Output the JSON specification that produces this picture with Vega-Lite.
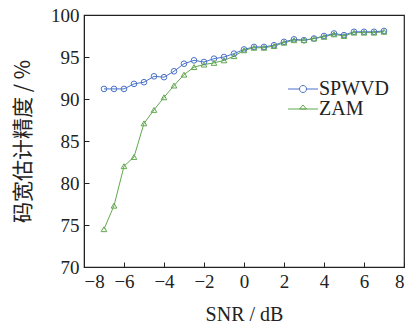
{
  "$schema": "https://vega.github.io/schema/vega-lite/v6.json",
  "autosize": "none",
  "width": 320,
  "height": 252,
  "padding": {"left": 84, "top": 15, "right": 9, "bottom": 56},
  "background": "white",
  "config": {
    "view": {"stroke": "#222", "strokeWidth": 1.2},
    "font": "Times New Roman",
    "axis": {
      "grid": false,
      "domainColor": "#222",
      "tickColor": "#222",
      "labelColor": "#222",
      "titleColor": "#222",
      "labelFont": "Times New Roman",
      "titleFont": "Times New Roman",
      "labelFontSize": 19,
      "titleFontSize": 20,
      "titleFontWeight": "normal",
      "tickSize": -5
    },
    "legend": {"labelFont": "Times New Roman"}
  },
  "data": {
    "values": [
      {"snr": -7, "acc": 91.2, "m": "SPWVD"},
      {"snr": -6.5, "acc": 91.2, "m": "SPWVD"},
      {"snr": -6, "acc": 91.2, "m": "SPWVD"},
      {"snr": -5.5, "acc": 91.8, "m": "SPWVD"},
      {"snr": -5, "acc": 92.0, "m": "SPWVD"},
      {"snr": -4.5, "acc": 92.7, "m": "SPWVD"},
      {"snr": -4, "acc": 92.6, "m": "SPWVD"},
      {"snr": -3.5, "acc": 93.3, "m": "SPWVD"},
      {"snr": -3, "acc": 94.2, "m": "SPWVD"},
      {"snr": -2.5, "acc": 94.6, "m": "SPWVD"},
      {"snr": -2, "acc": 94.4, "m": "SPWVD"},
      {"snr": -1.5, "acc": 94.8, "m": "SPWVD"},
      {"snr": -1, "acc": 95.0, "m": "SPWVD"},
      {"snr": -0.5, "acc": 95.4, "m": "SPWVD"},
      {"snr": 0, "acc": 95.9, "m": "SPWVD"},
      {"snr": 0.5, "acc": 96.2, "m": "SPWVD"},
      {"snr": 1, "acc": 96.2, "m": "SPWVD"},
      {"snr": 1.5, "acc": 96.4, "m": "SPWVD"},
      {"snr": 2, "acc": 96.8, "m": "SPWVD"},
      {"snr": 2.5, "acc": 97.1, "m": "SPWVD"},
      {"snr": 3, "acc": 97.0, "m": "SPWVD"},
      {"snr": 3.5, "acc": 97.2, "m": "SPWVD"},
      {"snr": 4, "acc": 97.5, "m": "SPWVD"},
      {"snr": 4.5, "acc": 97.8, "m": "SPWVD"},
      {"snr": 5, "acc": 97.6, "m": "SPWVD"},
      {"snr": 5.5, "acc": 98.0, "m": "SPWVD"},
      {"snr": 6, "acc": 98.0, "m": "SPWVD"},
      {"snr": 6.5, "acc": 98.0, "m": "SPWVD"},
      {"snr": 7, "acc": 98.1, "m": "SPWVD"},
      {"snr": -7, "acc": 74.5, "m": "ZAM"},
      {"snr": -6.5, "acc": 77.3, "m": "ZAM"},
      {"snr": -6, "acc": 82.0, "m": "ZAM"},
      {"snr": -5.5, "acc": 83.1, "m": "ZAM"},
      {"snr": -5, "acc": 87.1, "m": "ZAM"},
      {"snr": -4.5, "acc": 88.7, "m": "ZAM"},
      {"snr": -4, "acc": 90.2, "m": "ZAM"},
      {"snr": -3.5, "acc": 91.6, "m": "ZAM"},
      {"snr": -3, "acc": 92.9, "m": "ZAM"},
      {"snr": -2.5, "acc": 93.8, "m": "ZAM"},
      {"snr": -2, "acc": 94.1, "m": "ZAM"},
      {"snr": -1.5, "acc": 94.3, "m": "ZAM"},
      {"snr": -1, "acc": 94.6, "m": "ZAM"},
      {"snr": -0.5, "acc": 95.1, "m": "ZAM"},
      {"snr": 0, "acc": 95.8, "m": "ZAM"},
      {"snr": 0.5, "acc": 96.1, "m": "ZAM"},
      {"snr": 1, "acc": 96.1, "m": "ZAM"},
      {"snr": 1.5, "acc": 96.3, "m": "ZAM"},
      {"snr": 2, "acc": 96.7, "m": "ZAM"},
      {"snr": 2.5, "acc": 97.0, "m": "ZAM"},
      {"snr": 3, "acc": 97.0, "m": "ZAM"},
      {"snr": 3.5, "acc": 97.2, "m": "ZAM"},
      {"snr": 4, "acc": 97.4, "m": "ZAM"},
      {"snr": 4.5, "acc": 97.7, "m": "ZAM"},
      {"snr": 5, "acc": 97.5, "m": "ZAM"},
      {"snr": 5.5, "acc": 97.9, "m": "ZAM"},
      {"snr": 6, "acc": 97.9, "m": "ZAM"},
      {"snr": 6.5, "acc": 97.9, "m": "ZAM"},
      {"snr": 7, "acc": 98.0, "m": "ZAM"}
    ]
  },
  "encoding": {
    "x": {
      "field": "snr", "type": "quantitative",
      "scale": {"domain": [-8, 8], "nice": false},
      "axis": {"values": [-8, -6, -4, -2, 0, 2, 4, 6, 8], "title": "SNR / dB", "titlePadding": 13, "labelPadding": 10}
    },
    "y": {
      "field": "acc", "type": "quantitative",
      "scale": {"domain": [70, 100], "nice": false, "zero": false},
      "axis": {"values": [70, 75, 80, 85, 90, 95, 100], "title": "码宽估计精度 / %", "titleFont": "Noto Sans CJK SC", "titleFontSize": 21, "titlePadding": 17, "labelPadding": 10}
    },
    "color": {
      "field": "m", "type": "nominal",
      "scale": {"domain": ["SPWVD", "ZAM"], "range": ["#4a72c8", "#62a84f"]},
      "legend": {
        "title": null,
        "orient": "none",
        "legendX": 209,
        "legendY": 64,
        "labelFont": "Times New Roman",
        "labelFontSize": 20,
        "labelColor": "#222",
        "symbolSize": 100,
        "symbolStrokeWidth": 1,
        "symbolFillColor": "transparent",
        "rowPadding": -14,
        "labelOffset": 6,
        "encode": {
          "symbols": {
            "update": {
              "shape": {"signal": "datum.value === 'SPWVD' ? 'M-3,0H-0.7M0.7,0H3M0.7,0A0.7,0.7,0,1,1,-0.7,0A0.7,0.7,0,1,1,0.7,0' : 'M-3,0H3M0,-0.8L0.7,0L-0.7,0Z'"},
              "fill": {"value": "transparent"}
            }
          }
        }
      }
    }
  },
  "layer": [
    {
      "mark": {"type": "line", "strokeWidth": 1}
    },
    {
      "mark": {"type": "point", "filled": false, "strokeWidth": 1, "size": 32, "opacity": 1},
      "encoding": {
        "shape": {"condition": {"test": "datum.m === 'ZAM'", "value": "triangle-up"}, "value": "circle"}
      }
    }
  ]
}
